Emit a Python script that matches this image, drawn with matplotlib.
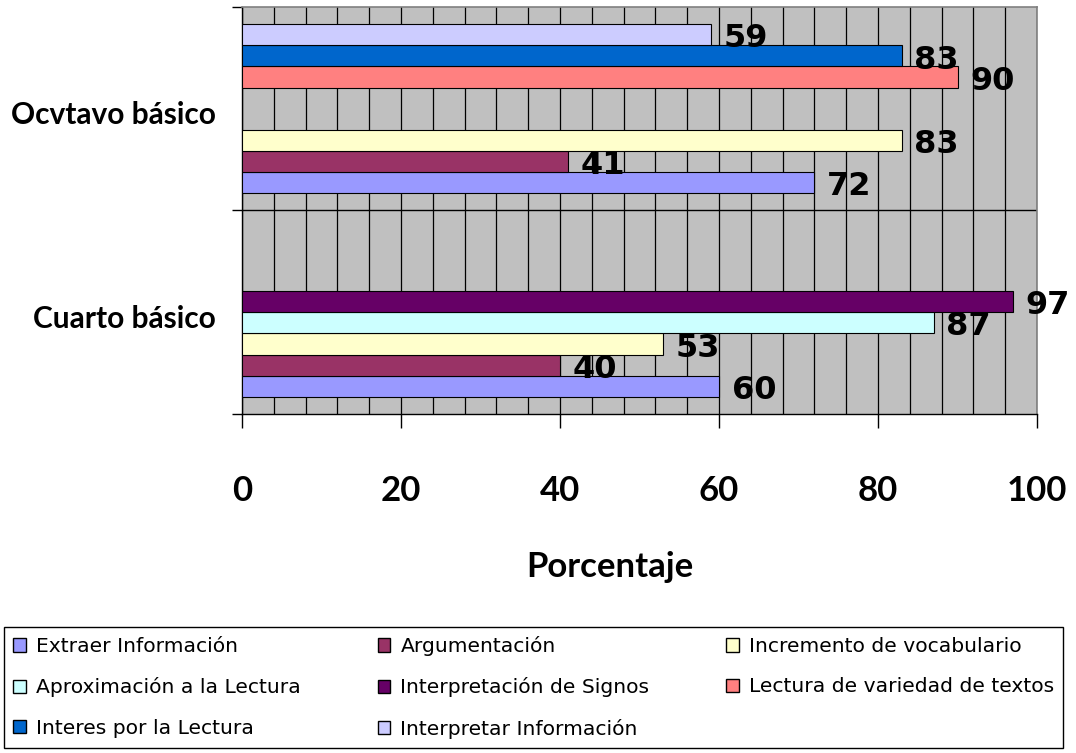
import numpy as np
import matplotlib
matplotlib.use("Agg")
import matplotlib.pyplot as plt
from matplotlib.patches import Patch
from matplotlib.ticker import MultipleLocator, FixedLocator
from matplotlib.transforms import ScaledTranslation

# categories (bottom to top) and the eight series
categories = ["Cuarto básico", "Ocvtavo básico"]
series_names = ["Extraer Información", "Argumentación", "Incremento de vocabulario",
                "Aproximación a la Lectura", "Interpretación de Signos",
                "Lectura de variedad de textos", "Interes por la Lectura",
                "Interpretar Información"]
extraer = [60, 72]
argumentacion = [40, 41]
incremento = [53, 83]
aproximacion = [87, np.nan]
signos = [97, np.nan]
lectura_variedad = [np.nan, 90]
interes = [np.nan, 83]
interpretar = [np.nan, 59]
colors = ["#9999FF", "#993366", "#FFFFCC", "#CCFFFF",
          "#660066", "#FF8080", "#0066CC", "#CCCCFF"]

all_series = [extraer, argumentacion, incremento, aproximacion,
              signos, lectura_variedad, interes, interpretar]

plt.rcParams['font.family'] = ['Lato', 'DejaVu Sans']

W, H = 1076, 753
fig = plt.figure(figsize=(W / 100, H / 100), dpi=100)
ax = fig.add_axes([242 / W, 1 - 414 / H, (1037 - 242) / W, (414 - 7) / H])
ax.set_facecolor("#C0C0C0")
ax.set_axisbelow(True)

h = 0.104
y = np.arange(len(categories))
for i, (vals, col) in enumerate(zip(all_series, colors)):
    vals = np.asarray(vals, dtype=float)
    ok = ~np.isnan(vals)
    bars = ax.barh(y[ok] + (i - 3.5) * h, vals[ok], height=h, color=col,
                   edgecolor="black", linewidth=0.8, zorder=3)
    for b, v in zip(bars, vals[ok]):
        ax.annotate(f"{v:.0f}", (v, b.get_y() + b.get_height() / 2),
                    xytext=(9, -3), textcoords="offset points",
                    ha="left", va="center", fontsize=23, fontweight="bold",
                    family="DejaVu Sans", zorder=4)

ax.set_xlim(0, 100)
ax.set_ylim(-0.5, 1.5)

# x axis: major every 20, gridlines every 4
ax.xaxis.set_major_locator(MultipleLocator(20))
ax.xaxis.set_minor_locator(MultipleLocator(4))
ax.grid(which="both", axis="x", color="black", linewidth=0.9)
ax.tick_params(axis="x", which="major", direction="out", length=10, width=1,
               pad=34, labelsize=25)
ax.tick_params(axis="x", which="minor", length=0)
for t in ax.get_xticklabels():
    t.set_fontweight("bold")

# y axis: ticks at category boundaries, labels at centres
ax.yaxis.set_major_locator(FixedLocator([-0.5, 0.5, 1.5]))
ax.yaxis.set_minor_locator(FixedLocator(y))
ax.set_yticklabels([], minor=False)
ax.set_yticklabels(categories, minor=True, fontsize=21.5, fontweight="bold")
ax.tick_params(axis="y", which="major", direction="out", length=7, width=1)
ax.tick_params(axis="y", which="minor", length=0, pad=19)
shift = ScaledTranslation(0, -4 / 100, fig.dpi_scale_trans)
for t in ax.get_yticklabels(minor=True):
    t.set_transform(t.get_transform() + shift)
ax.axhline(0.5, color="black", linewidth=1, zorder=2)

for s in ["left", "bottom"]:
    ax.spines[s].set_color("black")
    ax.spines[s].set_linewidth(1)
for s in ["top", "right"]:
    ax.spines[s].set_color("#808080")
    ax.spines[s].set_linewidth(1.2)

ax.set_xlabel("Porcentaje", fontsize=25, fontweight="bold")
ax.xaxis.set_label_coords(0.463, -0.376)
ax.xaxis.label.set_va("center")

# legend, filled row by row like the original
order = [0, 3, 6, 1, 4, 7, 2, 5]
handles = [Patch(facecolor=colors[k], edgecolor="black", label=series_names[k]) for k in order]
leg = fig.legend(handles=handles, loc="upper left", ncol=3,
                 bbox_to_anchor=(4 / W, 1 - 627 / H),
                 frameon=True, fancybox=False, edgecolor="black", framealpha=1,
                 prop={"family": "DejaVu Sans", "size": 14.6},
                 handlelength=0.62, handleheight=0.62, handletextpad=0.5,
                 columnspacing=3.8, labelspacing=1.05, borderpad=0.45,
                 borderaxespad=0)
leg.get_frame().set_linewidth(1)

fig.savefig("out.png", dpi=100)
